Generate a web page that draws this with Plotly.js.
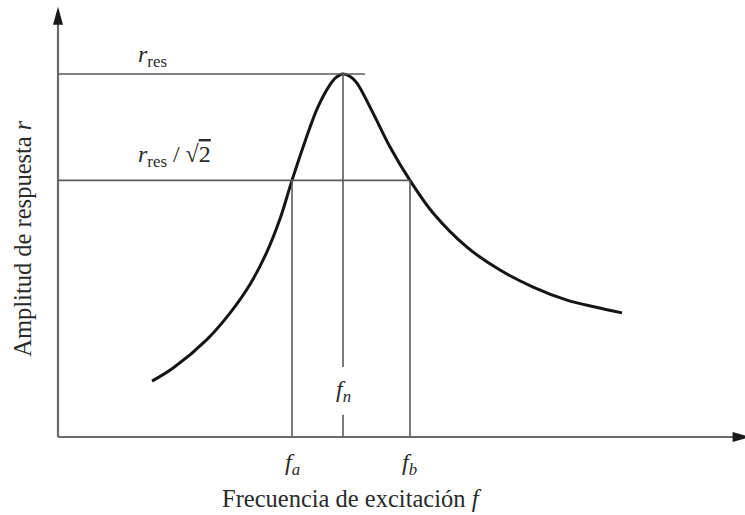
<!DOCTYPE html>
<html>
<head>
<meta charset="utf-8">
<script src="https://cdn.plot.ly/plotly-3.0.1.min.js"></script>
<style>
  html, body { margin: 0; padding: 0; background: #fff; }
  #chart { width: 745px; height: 515px; }
</style>
</head>
<body>
<div id="chart"></div>
<script>
// Response curve: excitation frequency (relative to f_n) vs amplitude (relative to r_res)
const freq = [0.330, 0.404, 0.523, 0.604, 0.674, 0.733, 0.779, 0.821, 0.867, 0.909, 0.954, 0.975, 1.000,
              1.025, 1.049, 1.105, 1.165, 1.235, 1.316, 1.435, 1.551, 1.667, 1.786, 1.884, 1.979];
const amp  = [0.154, 0.190, 0.269, 0.342, 0.421, 0.510, 0.601, 0.707, 0.815, 0.904, 0.970, 0.990, 1.000,
              0.993, 0.975, 0.893, 0.799, 0.707, 0.617, 0.523, 0.460, 0.413, 0.377, 0.358, 0.342];

// Marked frequencies and amplitude levels
const fA = 0.821;
const fB = 1.235;
const fN = 1.0;
const rRes = 1.0;
const rHalf = rRes / Math.SQRT2;

// Extent of the reference lines and axes
const rResLineEnd = 1.077;
const fnGapTop = 0.193;
const fnGapBottom = 0.061;
const xAxisEnd = 2.43;
const yAxisTop = 1.185;

const gray = '#5a5a5a';
const textColor = '#2a2a2a';
const serif = 'Liberation Serif, Times New Roman, serif';

const lineStyle = { color: gray, width: 1.6 };
const axisStyle = { color: '#6a6a6a', width: 2.2 };

const shapes = [
  // axes
  { type: 'line', xref: 'x', yref: 'y', x0: 0, x1: xAxisEnd - 0.02, y0: 0, y1: 0, line: axisStyle },
  { type: 'line', xref: 'x', yref: 'y', x0: 0, x1: 0, y0: 0, y1: yAxisTop - 0.03, line: axisStyle },
  // arrowheads
  { type: 'path', xref: 'x', yref: 'y', xsizemode: 'pixel', ysizemode: 'pixel',
    xanchor: 0, yanchor: yAxisTop, path: 'M -5 -18 L 0 0 L 5 -18 Z',
    fillcolor: '#1a1a1a', line: { width: 0 } },
  { type: 'path', xref: 'x', yref: 'y', xsizemode: 'pixel', ysizemode: 'pixel',
    xanchor: xAxisEnd, yanchor: 0, path: 'M -18 -5 L 0 0 L -18 5 Z',
    fillcolor: '#1a1a1a', line: { width: 0 } },
  // r_res level
  { type: 'line', xref: 'x', yref: 'y', x0: 0, x1: rResLineEnd, y0: rRes, y1: rRes, line: lineStyle },
  // r_res / sqrt(2) level
  { type: 'line', xref: 'x', yref: 'y', x0: 0, x1: fB, y0: rHalf, y1: rHalf, line: lineStyle },
  // f_a and f_b
  { type: 'line', xref: 'x', yref: 'y', x0: fA, x1: fA, y0: 0, y1: rHalf, line: lineStyle },
  { type: 'line', xref: 'x', yref: 'y', x0: fB, x1: fB, y0: 0, y1: rHalf, line: lineStyle },
  // f_n, broken around its label
  { type: 'line', xref: 'x', yref: 'y', x0: fN, x1: fN, y0: fnGapTop, y1: rRes, line: lineStyle },
  { type: 'line', xref: 'x', yref: 'y', x0: fN, x1: fN, y0: 0, y1: fnGapBottom, line: lineStyle }
];

const labelFont = { family: serif, size: 24, color: textColor };
const titleFont = { family: serif, size: 24.5, color: textColor };

const annotations = [
  { xref: 'x', yref: 'y', x: 0.333, y: rRes, yshift: 18, showarrow: false,
    xanchor: 'center', yanchor: 'middle',
    text: '<i>r</i><sub>res</sub>', font: labelFont },
  { xref: 'x', yref: 'y', x: 0.41, y: rHalf, yshift: 24, showarrow: false,
    xanchor: 'center', yanchor: 'middle',
    text: '<i>r</i><sub>res</sub> / √<span style="text-decoration:overline">2</span>', font: labelFont },
  { xref: 'x', yref: 'y', x: fN, y: (fnGapTop + fnGapBottom) / 2, showarrow: false,
    xanchor: 'center', yanchor: 'middle',
    text: '<i>f<sub>n</sub></i>', font: labelFont },
  { xref: 'x', yref: 'y', x: fA, y: 0, yshift: -27, showarrow: false,
    xanchor: 'center', yanchor: 'middle',
    text: '<i>f<sub>a</sub></i>', font: labelFont },
  { xref: 'x', yref: 'y', x: fB, y: 0, yshift: -27, showarrow: false,
    xanchor: 'center', yanchor: 'middle',
    text: '<i>f<sub>b</sub></i>', font: labelFont },
  // axis titles
  { xref: 'paper', yref: 'paper', x: 0.4426, y: -0.107, showarrow: false,
    xanchor: 'center', yanchor: 'middle',
    text: 'Frecuencia de excitación <i>f</i>', font: titleFont },
  { xref: 'paper', yref: 'paper', x: -0.026, y: 0.471, showarrow: false, textangle: -90,
    xanchor: 'center', yanchor: 'middle',
    text: 'Amplitud de respuesta <i>r</i>', font: titleFont }
];

const trace = {
  x: freq,
  y: amp,
  type: 'scatter',
  mode: 'lines',
  line: { color: '#151515', width: 3, shape: 'spline', smoothing: 0.9 },
  hoverinfo: 'skip'
};

const hiddenAxis = {
  showgrid: false, zeroline: false, showline: false,
  showticklabels: false, ticks: '', fixedrange: true
};

const layout = {
  width: 745,
  height: 515,
  margin: { l: 40, r: 0, t: 0, b: 65 },
  paper_bgcolor: '#ffffff',
  plot_bgcolor: '#ffffff',
  showlegend: false,
  xaxis: Object.assign({ range: [-0.0632, 2.4105] }, hiddenAxis),
  yaxis: Object.assign({ range: [-0.0358, 1.2039] }, hiddenAxis),
  shapes: shapes,
  annotations: annotations
};

Plotly.newPlot('chart', [trace], layout, { staticPlot: true, displayModeBar: false });
</script>
</body>
</html>
